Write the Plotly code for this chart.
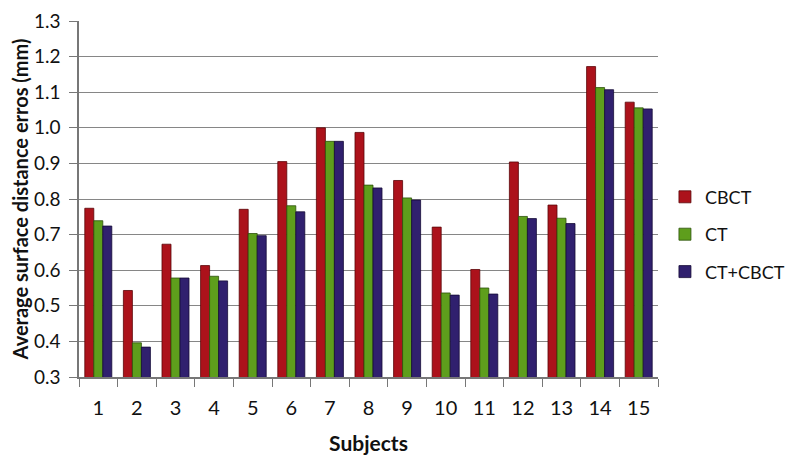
import plotly.graph_objects as go

subjects = [str(i) for i in range(1, 16)]
cbct = [0.774, 0.543, 0.673, 0.613, 0.771, 0.905, 1.000, 0.987, 0.852, 0.721, 0.602, 0.904, 0.783, 1.172, 1.072]
ct = [0.739, 0.396, 0.578, 0.583, 0.703, 0.781, 0.962, 0.839, 0.803, 0.536, 0.550, 0.751, 0.746, 1.113, 1.056]
ct_cbct = [0.724, 0.384, 0.578, 0.570, 0.697, 0.764, 0.962, 0.831, 0.797, 0.530, 0.533, 0.745, 0.731, 1.107, 1.053]
y_ticks = [0.3, 0.4, 0.5, 0.6, 0.7, 0.8, 0.9, 1.0, 1.1, 1.2, 1.3]

series = [
    ("CBCT", cbct, "#AC121B", "#5A0508"),
    ("CT", ct, "#5E9E1C", "#2C500A"),
    ("CT+CBCT", ct_cbct, "#30206E", "#140A36"),
]

FONT = "Lato, 'Open Sans', sans-serif"

fig = go.Figure()
for name, vals, col, line in series:
    fig.add_trace(go.Bar(
        x=subjects, y=vals, name=name, legendgroup=name,
        marker=dict(color=col, line=dict(color=line, width=0.8)),
    ))

# page has an 8px body margin, so the figure is sized to 785x447
fig.update_layout(
    width=785, height=447,
    margin=dict(l=71, r=135, t=13, b=78, autoexpand=False),
    paper_bgcolor="white", plot_bgcolor="white",
    barmode="group", bargap=0.3, bargroupgap=0,
    font=dict(family=FONT, size=18, color="#111"),
    legend=dict(x=1.012, xanchor="left", y=0.40, yanchor="middle",
                font=dict(size=18), tracegroupgap=11, itemwidth=30),
    showlegend=True,
)
fig.update_xaxes(
    type="category", tickson="boundaries", ticks="outside", ticklen=8,
    tickcolor="#777", showline=True, linecolor="#777", linewidth=1.5,
    showgrid=False, ticklabelstandoff=12, automargin=False,
    ticklabeloverflow="allow",
    title=dict(text="<b>Subjects</b>", font=dict(size=21), standoff=21),
    tickfont=dict(size=20),
)
fig.update_yaxes(
    range=[0.3, 1.3], tickvals=y_ticks,
    ticktext=[f"{v:.1f}" for v in y_ticks],
    ticks="outside", ticklen=8, tickcolor="#777",
    showline=True, linecolor="#777", linewidth=1.5,
    showgrid=True, gridcolor="#868686", gridwidth=1,
    ticklabelstandoff=5, automargin=False, ticklabeloverflow="allow",
    title=dict(text="<b>Average surface distance erros (mm)</b>", font=dict(size=20), standoff=16),
    tickfont=dict(size=19),
    zeroline=False,
)

fig.write_html("out.html")
